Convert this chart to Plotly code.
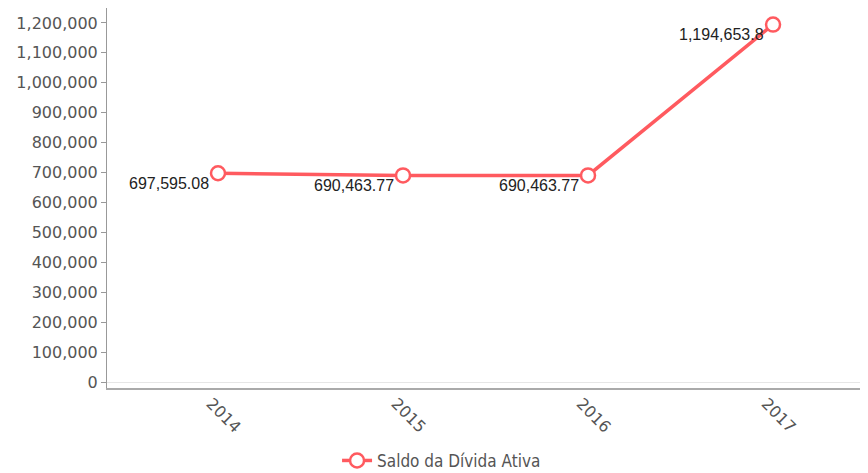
import plotly.graph_objects as go

years = ["2014", "2015", "2016", "2017"]
saldo = [697595.08, 690463.77, 690463.77, 1194653.8]
labels = ["697,595.08", "690,463.77", "690,463.77", "1,194,653.8"]
y_ticks = list(range(0, 1200001, 100000))

red = "#ff5a5f"

fig = go.Figure()
fig.add_trace(go.Scatter(
    x=list(range(len(years))), y=saldo,
    mode="lines+markers",
    name="Saldo da Dívida Ativa",
    line=dict(color=red, width=3.5),
    marker=dict(symbol="circle", size=14, color="white", line=dict(color=red, width=2.5)),
    cliponaxis=False,
))

for i, (v, t) in enumerate(zip(saldo, labels)):
    fig.add_annotation(x=i, y=v, text=t, showarrow=False,
                       xanchor="right", yanchor="middle", xshift=-7, yshift=-10,
                       font=dict(family="Liberation Sans, Arial", size=16, color="#222"))

# page body adds an 8px offset; layout is shifted to compensate
fig.update_layout(
    width=860, height=465,
    margin=dict(l=99, r=3, t=0, b=85),
    plot_bgcolor="white", paper_bgcolor="white",
    showlegend=True,
    legend=dict(orientation="h", yref="container", x=0.3035, xanchor="left",
                y=0.026, yanchor="middle",
                font=dict(family="DejaVu Sans Condensed, DejaVu Sans", size=17, color="#555"),
                itemwidth=30),
    xaxis=dict(
        range=[-0.6, 3.497],
        tickvals=list(range(len(years))), ticktext=years,
        tickangle=45, ticklabelshift=-7, ticklabelstandoff=-2,
        showgrid=False, zeroline=False, automargin=False,
        showline=True, linecolor="#aaa", linewidth=2,
        ticks="", tickfont=dict(family="DejaVu Sans", size=16, color="#555"),
    ),
    yaxis=dict(
        range=[-20000, 1250000],
        tickvals=y_ticks, ticktext=[f"{v:,}" for v in y_ticks],
        showgrid=False, zeroline=True, zerolinecolor="#e6e6e6", zerolinewidth=1,
        showline=True, linecolor="#999", linewidth=1, automargin=False,
        ticks="outside", ticklen=5, tickcolor="#999",
        tickfont=dict(family="DejaVu Sans", size=16, color="#555"),
    ),
)

fig.write_html("out.html")
